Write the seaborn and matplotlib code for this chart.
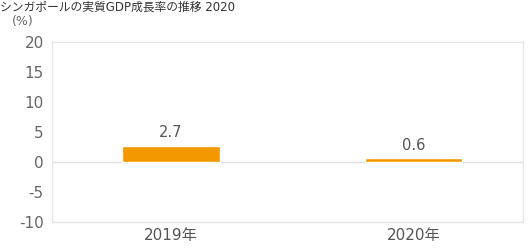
import matplotlib
matplotlib.use("Agg")
import matplotlib.pyplot as plt
import seaborn as sns
import pandas as pd

# 値
years = ['2019年', '2020年']
growth = [2.7, 0.6]
yticks = [-10, -5, 0, 5, 10, 15, 20]
title = 'シンガポールの実質GDP成長率の推移 2020'

sns.set_style("white")
plt.rcParams['font.family'] = ['DejaVu Sans', 'Noto Sans CJK JP']

df = pd.DataFrame({'year': years, 'growth': growth})

fig = plt.figure(figsize=(5.32, 2.49), dpi=100)
ax = fig.add_axes([52 / 532, 1 - 222 / 249, (523 - 52) / 532, 180 / 249])

sns.barplot(data=df, x='year', y='growth', ax=ax, color='#F39800',
            width=0.4, saturation=1)

for i, v in enumerate(growth):
    ax.annotate(f'{v}', (i, v), xytext=(0, 4), textcoords='offset points',
                ha='center', va='bottom', fontsize=10.5, color='#555555')

ax.set_ylim(-10, 20)
ax.set_xlim(-0.49, 1.45)
ax.set_yticks(yticks)
ax.set_yticklabels([str(t) for t in yticks], fontsize=11, color='#666666')
ax.tick_params(axis='y', length=3, color='#dddddd', pad=3)
ax.tick_params(axis='x', length=0, labelsize=11, labelcolor='#555555', pad=4)
ax.axhline(0, color='#e0e0e0', lw=1, zorder=0)
for s in ax.spines.values():
    s.set_color('#e6e6e6')
    s.set_linewidth(1)
ax.set_xlabel('')
ax.set_ylabel('')

fig.text(12 / 532, 1 - 21 / 249, '(%)', fontsize=9, color='#666666', va='center')
# タイトル
fig.text(0, 1 - 0.5 / 249, title, fontsize=8.5, color='#333333', va='top', ha='left')

fig.savefig('out.png', dpi=100)
